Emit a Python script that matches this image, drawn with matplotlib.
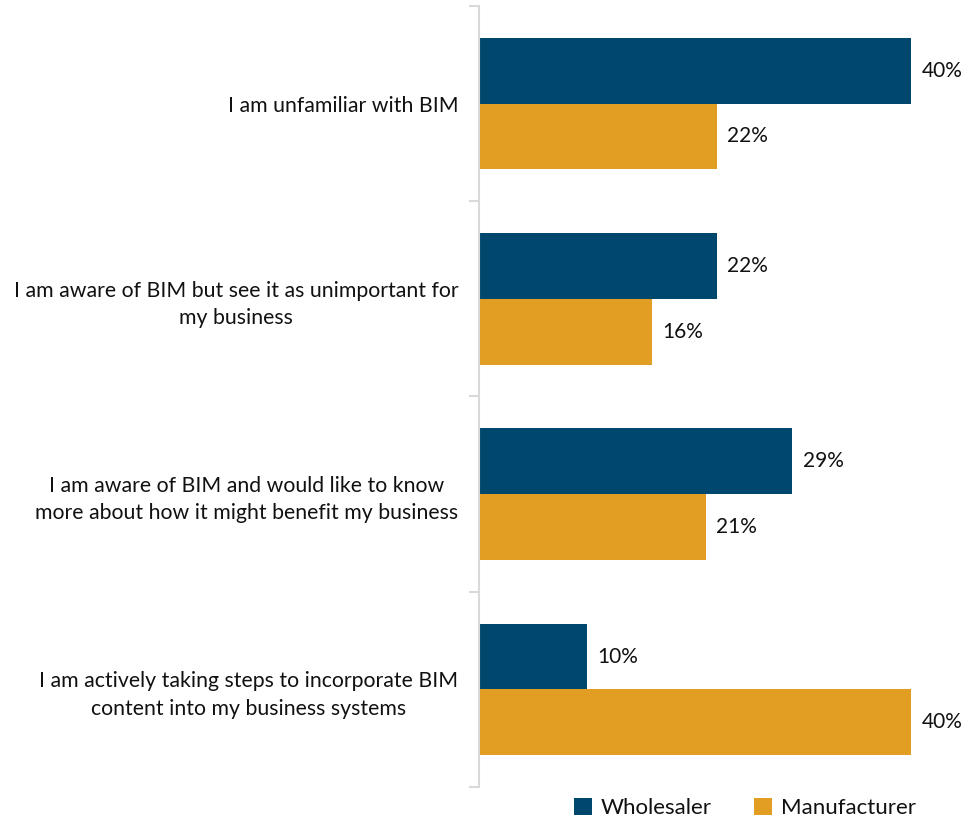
import matplotlib
matplotlib.use("Agg")
import matplotlib.pyplot as plt
from matplotlib.patches import Patch
import numpy as np

categories = [
    "I am unfamiliar with BIM",
    "I am aware of BIM but see it as unimportant for\nmy business",
    "I am aware of BIM and would like to know\nmore about how it might benefit my business",
    "I am actively taking steps to incorporate BIM\ncontent into my business systems",
]
series_names = ["Wholesaler", "Manufacturer"]
wholesaler = [40, 22, 29, 10]
manufacturer = [22, 16, 21, 40]
colors = ["#00476E", "#E29D23"]

plt.rcParams["font.family"] = ["Lato", "DejaVu Sans"]

W, H = 980, 822
fig = plt.figure(figsize=(W / 100, H / 100), dpi=100)
ax = fig.add_axes([479 / W, 35 / H, (965 - 479) / W, (787 - 6) / H])

n = len(categories)
y = np.arange(n)
bar_h = 66 / 196
for vals, off, col in [(wholesaler, -bar_h / 2, colors[0]), (manufacturer, bar_h / 2, colors[1])]:
    ax.barh(y + off, vals, height=bar_h, color=col, edgecolor="none")
    for yi, v in zip(y, vals):
        ax.annotate(f"{v}%", (v, yi + off), xytext=(7.5, 0), textcoords="offset points",
                    va="center", ha="left", fontsize=15, color="#111111")

ax.set_ylim(n - 0.5, -0.5)
ax.set_xlim(0, (965 - 479) / 10.8)

ax.set_yticks(np.arange(-0.5, n, 1.0))
ax.set_yticklabels([])
ax.set_yticks(y, minor=True)
ax.set_yticklabels(categories, minor=True, fontsize=15.3, multialignment="center",
                   linespacing=1.45, color="#111111")
ax.tick_params(axis="y", which="major", length=7, color="#d9d9d9", width=1.5, direction="out")
ax.tick_params(axis="y", which="minor", length=0, pad=15)

ax.set_xticks([])
for s in ["top", "right", "bottom"]:
    ax.spines[s].set_visible(False)
ax.spines["left"].set_color("#d9d9d9")
ax.spines["left"].set_linewidth(1.5)

handles = [Patch(facecolor=c, edgecolor="none") for c in colors]
fig.legend(handles, series_names, loc="center", bbox_to_anchor=(745 / W, 1 - 808 / H),
           ncol=2, frameon=False, fontsize=16, handlelength=0.8, handleheight=0.8,
           handletextpad=0.4, columnspacing=1.9, labelcolor="#111111")

fig.savefig("out.png", dpi=100)
